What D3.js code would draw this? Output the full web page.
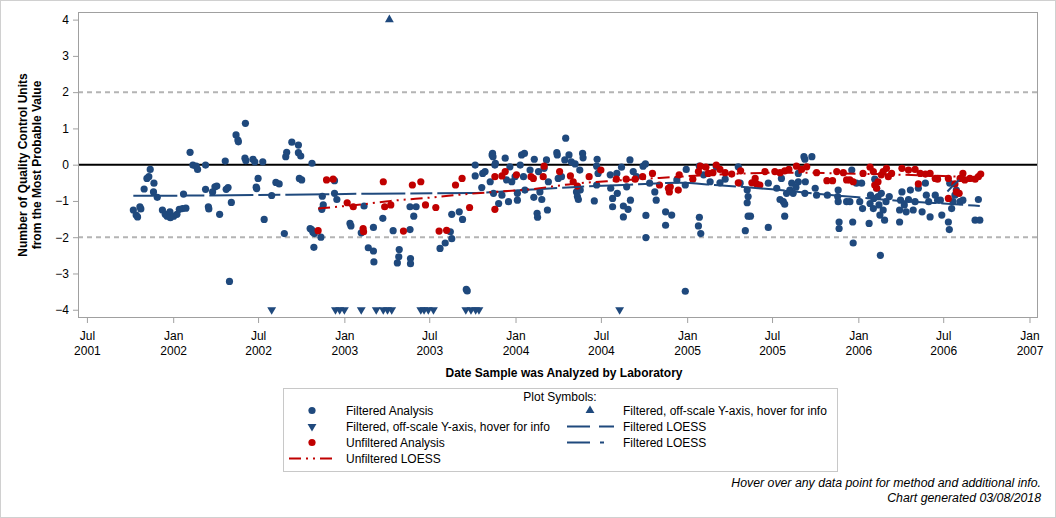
<!DOCTYPE html>
<html>
<head>
<meta charset="utf-8">
<script src="https://cdn.jsdelivr.net/npm/d3@7"></script>
<style>
  html, body { margin: 0; padding: 0; background: #fff; }
  svg text { font-family: "Liberation Sans", Arial, sans-serif; }
</style>
</head>
<body>
<svg id="chart" width="1056" height="518"></svg>
<script>
// ---------------- DATA ----------------
const yTickValues = [-4, -3, -2, -1, 0, 1, 2, 3, 4];
const referenceLines = [2, -2];

const filteredAnalysis = [
["2001-10-08",-1.25],["2001-10-14",-1.39],["2001-10-17",-1.44],["2001-10-22",-1.16],["2001-10-24",-1.22],["2001-10-31",-0.67],["2001-11-06",-0.38],["2001-11-10",-0.33],["2001-11-13",-0.13],["2001-11-21",-0.51],["2001-11-20",-0.75],["2001-11-28",-0.90],["2001-12-09",-1.25],["2001-12-15",-1.37],["2001-12-19",-1.42],["2001-12-25",-1.30],["2001-12-26",-1.46],["2002-01-02",-1.42],["2002-01-09",-1.37],["2002-01-14",-1.23],["2002-01-21",-1.21],["2002-01-28",-1.20],["2002-01-23",-0.81],["2002-02-06",0.34],["2002-02-12",-0.01],["2002-02-19",-0.04],["2002-02-22",-0.13],["2002-03-11",-0.01],["2002-03-11",-0.68],["2002-03-17",-1.16],["2002-03-18",-1.22],["2002-03-26",-0.75],["2002-03-31",-0.61],["2002-04-04",-0.59],["2002-04-10",-1.37],["2002-04-22",0.10],["2002-04-24",-0.68],["2002-04-28",-0.63],["2002-05-05",-1.04],["2002-05-01",-3.22],["2002-05-15",0.82],["2002-05-19",0.68],["2002-05-20",0.63],["2002-06-04",1.14],["2002-06-03",0.18],["2002-06-05",0.11],["2002-06-20",0.15],["2002-06-24",0.08],["2002-06-27",-0.62],["2002-07-01",-0.38],["2002-06-28",-0.66],["2002-07-11",0.08],["2002-07-14",-1.51],["2002-07-30",-0.85],["2002-08-08",-0.49],["2002-08-15",-0.53],["2002-08-26",-1.90],["2002-08-29",0.22],["2002-08-31",0.34],["2002-09-11",0.62],["2002-09-25",0.54],["2002-09-25",0.33],["2002-09-30",0.24],["2002-09-27",-0.38],["2002-10-02",-0.42],["2002-10-20",-1.76],["2002-10-24",0.04],["2002-10-23",-1.79],["2002-10-26",-1.86],["2002-10-28",-2.28],["2002-10-29",-1.90],["2002-11-12",-2.00],["2002-11-14",-1.23],["2002-11-15",-0.87],["2002-11-17",-1.11],["2002-12-11",-0.79],["2002-12-16",-0.96],["2002-12-11",-0.44],["2003-01-13",-1.62],["2003-01-15",-1.69],["2003-02-12",-1.14],["2003-02-06",-1.88],["2003-03-04",-1.73],["2003-02-21",-2.29],["2003-03-04",-2.38],["2003-03-05",-2.68],["2003-03-24",-1.48],["2003-04-15",-1.82],["2003-04-28",-2.34],["2003-04-27",-2.54],["2003-04-24",-2.71],["2003-05-21",-1.16],["2003-06-03",-1.16],["2003-05-29",-1.42],["2003-05-21",-1.79],["2003-05-22",-2.59],["2003-05-22",-2.73],["2003-08-18",-1.37],["2003-09-03",-1.30],["2003-09-10",-1.51],["2003-08-15",-1.85],["2003-08-18",-2.04],["2003-08-04",-2.16],["2003-07-24",-2.31],["2003-09-18",-3.44],["2003-09-20",-3.48],["2003-10-07",-0.01],["2003-10-07",-0.31],["2003-10-21",-0.63],["2003-10-23",-0.24],["2003-10-28",-0.19],["2003-11-08",-0.47],["2003-11-12",0.27],["2003-11-13",0.31],["2003-11-18",-0.01],["2003-11-15",-0.79],["2003-11-26",-1.07],["2003-11-14",0.22],["2003-11-19",0.04],["2003-12-03",-0.84],["2003-12-10",0.18],["2003-12-13",-0.42],["2003-12-17",-1.02],["2003-12-20",-0.06],["2003-12-24",-0.47],["2003-12-31",-0.33],["2004-01-05",-0.79],["2004-01-05",-0.98],["2004-01-11",-0.01],["2004-01-14",0.27],["2004-01-20",0.31],["2004-01-18",-0.33],["2004-01-21",-0.70],["2004-02-01",-0.15],["2004-02-10",0.15],["2004-02-09",-0.90],["2004-02-16",-1.34],["2004-02-17",-1.45],["2004-02-19",-0.19],["2004-02-22",-0.75],["2004-02-26",-0.96],["2004-03-02",-0.10],["2004-03-07",0.13],["2004-03-09",-1.25],["2004-03-11",-0.47],["2004-03-29",0.33],["2004-03-30",0.27],["2004-04-01",-0.38],["2004-04-08",-0.33],["2004-04-17",0.73],["2004-04-15",0.13],["2004-04-24",0.27],["2004-04-29",0.08],["2004-05-07",0.02],["2004-05-10",-0.75],["2004-05-12",-0.88],["2004-05-14",-0.96],["2004-05-17",-0.15],["2004-05-23",0.31],["2004-05-24",0.19],["2004-05-18",-0.70],["2004-06-17",-1.00],["2004-06-22",-0.56],["2004-06-22",-0.04],["2004-06-23",0.15],["2004-06-25",-0.24],["2004-07-21",-0.28],["2004-07-22",-0.65],["2004-07-26",-0.93],["2004-07-26",-1.16],["2004-08-04",-0.24],["2004-08-05",-0.79],["2004-08-14",-0.07],["2004-08-18",-1.14],["2004-08-18",-1.44],["2004-08-25",-0.61],["2004-08-28",-1.23],["2004-09-01",0.13],["2004-09-02",-0.98],["2004-09-08",-0.19],["2004-09-15",-0.33],["2004-09-29",-0.04],["2004-10-04",0.02],["2004-10-05",-1.40],["2004-10-05",-2.01],["2004-10-13",-0.51],["2004-10-24",-0.75],["2004-10-27",-0.98],["2004-11-16",-1.30],["2004-11-16",-1.67],["2004-11-29",-1.39],["2004-12-28",-3.49],["2004-12-30",-0.13],["2004-12-28",-0.56],["2004-12-10",-0.42],["2005-01-27",-0.04],["2005-01-27",-1.45],["2005-01-25",-1.69],["2005-01-30",-1.90],["2005-02-05",-0.28],["2005-02-19",-0.47],["2005-03-04",-0.06],["2005-03-12",-0.50],["2005-03-23",-0.40],["2005-04-20",-0.06],["2005-04-24",-0.51],["2005-05-09",-0.70],["2005-05-11",-0.88],["2005-05-09",-1.05],["2005-05-11",-1.42],["2005-05-16",-1.42],["2005-05-05",-1.82],["2005-06-23",-1.73],["2005-06-23",-0.51],["2005-07-11",-0.65],["2005-07-18",-0.96],["2005-07-21",-0.38],["2005-07-25",-1.02],["2005-07-28",-1.09],["2005-07-28",-1.42],["2005-08-01",-0.79],["2005-08-08",-0.70],["2005-08-12",-0.51],["2005-08-15",-0.79],["2005-08-21",-0.62],["2005-08-26",-0.47],["2005-08-26",-0.24],["2005-09-07",0.22],["2005-09-09",0.15],["2005-09-24",0.22],["2005-09-09",-0.79],["2005-09-10",-0.47],["2005-10-01",-0.65],["2005-10-04",-0.84],["2005-10-27",-0.84],["2005-11-19",-0.70],["2005-11-18",-0.88],["2005-11-19",-1.02],["2005-11-21",-1.58],["2005-11-21",-1.76],["2005-12-07",-1.02],["2005-12-14",-1.02],["2005-12-20",-1.58],["2005-12-21",-2.16],["2005-12-18",-0.15],["2005-12-28",-0.51],["2006-01-08",-0.51],["2006-01-04",-1.02],["2006-01-10",-1.21],["2006-01-24",-1.62],["2006-01-27",-0.84],["2006-01-26",-1.07],["2006-02-02",-1.21],["2006-02-03",-0.93],["2006-02-05",-0.40],["2006-02-09",-0.65],["2006-02-12",-0.88],["2006-02-14",-1.11],["2006-02-16",-1.39],["2006-02-17",-2.50],["2006-02-19",-0.79],["2006-02-23",-1.25],["2006-02-26",-1.53],["2006-03-01",-1.02],["2006-03-08",-0.88],["2006-03-30",-1.58],["2006-03-30",-1.25],["2006-04-01",-0.98],["2006-04-04",-0.75],["2006-04-09",-1.11],["2006-04-13",-1.30],["2006-04-18",-0.96],["2006-04-22",-0.70],["2006-04-28",-1.25],["2006-05-02",-1.02],["2006-05-09",-0.65],["2006-05-17",-1.30],["2006-05-24",-0.51],["2006-05-26",-0.84],["2006-05-31",-1.02],["2006-06-03",-1.44],["2006-06-14",-0.84],["2006-06-19",-0.98],["2006-06-25",-0.98],["2006-06-28",-1.39],["2006-07-12",-1.58],["2006-07-14",-1.79],["2006-07-15",-0.51],["2006-07-19",-1.21],["2006-07-22",-1.02],["2006-07-26",-0.84],["2006-07-29",-0.70],["2006-08-06",-1.02],["2006-08-12",-0.98],["2006-09-07",-1.53],["2006-09-17",-1.53],["2006-09-14",-0.96]
];

const unfilteredAnalysis = [
["2002-11-06",-1.82],["2002-11-24",-0.42],["2002-12-08",-0.40],["2003-01-07",-1.05],["2003-01-20",-1.16],["2003-02-10",-1.76],["2003-02-11",-1.85],["2003-03-25",-0.47],["2003-03-28",-1.16],["2003-04-10",-1.11],["2003-05-07",-1.83],["2003-05-26",-0.56],["2003-06-13",-0.47],["2003-06-23",-1.11],["2003-07-15",-1.18],["2003-07-22",-1.83],["2003-08-07",-1.81],["2003-08-26",-0.56],["2003-09-09",-0.38],["2003-09-25",-1.18],["2003-11-18",-1.23],["2003-11-18",-0.33],["2003-12-03",-0.31],["2003-12-10",-0.19],["2004-01-03",-0.28],["2004-02-03",-0.33],["2004-02-08",-0.38],["2004-02-29",-0.33],["2004-03-02",-0.04],["2004-04-04",-0.19],["2004-04-27",-0.31],["2004-05-03",-0.47],["2004-05-12",-0.59],["2004-06-06",-0.33],["2004-07-01",-0.15],["2004-08-03",-0.40],["2004-08-24",-0.40],["2004-09-12",-0.40],["2004-09-28",-0.33],["2004-10-19",-0.24],["2004-11-03",-0.56],["2004-11-22",-0.65],["2004-11-24",-0.75],["2004-11-26",-0.61],["2004-12-13",-0.70],["2004-12-15",-0.28],["2005-01-13",-0.40],["2005-01-25",-0.19],["2005-01-29",-0.04],["2005-02-10",-0.07],["2005-02-15",-0.24],["2005-02-25",-0.22],["2005-03-04",-0.01],["2005-03-12",-0.13],["2005-03-23",-0.22],["2005-04-06",-0.26],["2005-04-20",-0.50],["2005-04-25",-0.17],["2005-05-19",-0.50],["2005-05-26",-0.38],["2005-05-29",-0.53],["2005-06-05",-0.56],["2005-06-16",-0.19],["2005-07-07",-0.19],["2005-07-18",-0.22],["2005-07-28",-0.17],["2005-08-06",-0.13],["2005-08-22",-0.04],["2005-09-02",-0.13],["2005-09-13",-0.06],["2005-10-04",-0.22],["2005-10-26",-0.44],["2005-11-07",-0.44],["2005-11-16",-0.19],["2005-11-30",-0.22],["2005-12-07",-0.42],["2005-12-14",-0.42],["2005-12-21",-0.47],["2006-01-11",-0.24],["2006-01-26",-0.07],["2006-02-02",-0.19],["2006-02-05",-0.56],["2006-02-09",-0.65],["2006-02-12",-0.47],["2006-02-19",-0.28],["2006-02-23",-0.19],["2006-03-02",-0.10],["2006-03-06",-0.33],["2006-03-13",-0.24],["2006-04-04",-0.10],["2006-04-18",-0.15],["2006-05-02",-0.13],["2006-05-09",-0.53],["2006-05-13",-0.24],["2006-05-24",-0.26],["2006-06-03",-0.24],["2006-06-14",-0.38],["2006-06-19",-0.40],["2006-07-12",-0.38],["2006-07-12",-0.93],["2006-07-26",-0.53],["2006-07-29",-0.75],["2006-08-04",-0.79],["2006-08-06",-0.38],["2006-08-12",-0.24],["2006-08-16",-0.42],["2006-08-27",-0.38],["2006-09-07",-0.40],["2006-09-14",-0.33],["2006-09-19",-0.26]
];

// Off-scale points, plotted at the axis limit
const offScaleLow = [
["2002-07-30",-4],["2002-12-13",-4],["2002-12-22",-4],["2003-01-01",-4],["2003-02-06",-4],["2003-03-10",-4],["2003-03-25",-4],["2003-04-03",-4],["2003-04-12",-4],["2003-06-13",-4],["2003-06-20",-4],["2003-06-29",-4],["2003-07-10",-4],["2003-09-17",-4],["2003-09-28",-4],["2003-10-08",-4],["2003-10-15",-4],["2004-08-10",-4]
];
const offScaleHigh = [["2003-04-07",4]];

const filteredLoess = [
["2001-10-08",-0.86],["2002-03-01",-0.85],["2002-09-01",-0.83],["2003-03-01",-0.80],["2003-10-01",-0.78],["2004-01-15",-0.70],["2004-05-01",-0.62],["2004-09-01",-0.55],["2004-12-15",-0.50],["2005-03-01",-0.56],["2005-07-01",-0.68],["2005-10-01",-0.80],["2006-01-01",-0.90],["2006-04-01",-1.00],["2006-07-01",-1.07],["2006-09-17",-1.14]
];
const filteredLoess2 = [
["2006-07-10",-0.74],["2006-07-20",-0.60],["2006-08-04",-0.42]
];
const unfilteredLoess = [
["2002-11-06",-1.21],["2003-02-10",-1.09],["2003-04-10",-1.00],["2003-07-10",-0.90],["2003-09-20",-0.81],["2003-11-18",-0.75],["2004-02-01",-0.68],["2004-05-01",-0.53],["2004-08-01",-0.44],["2004-10-15",-0.38],["2004-12-15",-0.33],["2005-04-01",-0.26],["2005-08-01",-0.22],["2006-01-01",-0.25],["2006-06-01",-0.30],["2006-09-19",-0.36]
];

const legendItems = [
  {label: "Filtered Analysis", kind: "circle", color: "#1f497d", col: 0, row: 0},
  {label: "Filtered, off-scale Y-axis, hover for info", kind: "down", color: "#1f497d", col: 0, row: 1},
  {label: "Unfiltered Analysis", kind: "circle", color: "#c00000", col: 0, row: 2},
  {label: "Unfiltered LOESS", kind: "line", color: "#c00000", dash: "12,5,2,5,2,5,12", col: 0, row: 3},
  {label: "Filtered, off-scale Y-axis, hover for info", kind: "up", color: "#1f497d", col: 1, row: 0},
  {label: "Filtered LOESS", kind: "line", color: "#1f497d", dash: "23,9,16", col: 1, row: 1},
  {label: "Filtered LOESS", kind: "line", color: "#1f497d", dash: "23,10,4,30", col: 1, row: 2}
];

// ---------------- DRAW ----------------
const BLUE = "#1f497d", RED = "#c00000";
const parse = d3.utcParse("%Y-%m-%d");
const svg = d3.select("#chart");

const L = 78, R = 1037, T = 12, B = 317;
const x = d3.scaleUtc()
  .domain([parse("2001-06-12"), parse("2007-01-17")])
  .range([L, R]);
const y = d3.scaleLinear().domain([-4.2, 4.21]).range([B, T]);

// outer border
svg.append("rect").attr("x", 0.5).attr("y", 0.5).attr("width", 1055).attr("height", 517)
  .attr("fill", "#fff").attr("stroke", "#d0d0d0");

// reference lines
svg.selectAll(".ref").data(referenceLines).join("line")
  .attr("x1", L).attr("x2", R)
  .attr("y1", d => y(d)).attr("y2", d => y(d))
  .attr("stroke", "#b4b4b4").attr("stroke-width", 2).attr("stroke-dasharray", "5,4");
svg.append("line").attr("x1", L).attr("x2", R).attr("y1", y(0)).attr("y2", y(0))
  .attr("stroke", "#000").attr("stroke-width", 2);

// axes
const yAxis = d3.axisLeft(y).tickValues(yTickValues).tickSize(5).tickPadding(4).tickFormat(d3.format("d"));
const gy = svg.append("g").attr("transform", `translate(${L},0)`).call(yAxis);
gy.select(".domain").remove();
gy.selectAll("line").attr("stroke", "#a0a0a0");
gy.selectAll("text").attr("font-size", 12).attr("fill", "#000");

const xAxis = d3.axisBottom(x).ticks(d3.utcMonth.every(6)).tickSize(6).tickFormat("");
const gx = svg.append("g").attr("transform", `translate(0,${B})`).call(xAxis);
gx.select(".domain").remove();
gx.selectAll("line").attr("stroke", "#a0a0a0");
gx.selectAll(".tick").each(function(d) {
  const t = d3.select(this).select("text");
  t.attr("font-size", 12).attr("fill", "#000").attr("y", 0).attr("dy", null);
  t.append("tspan").attr("x", 0).attr("y", 23).text(d3.utcFormat("%b")(d));
  t.append("tspan").attr("x", 0).attr("y", 38).text(d3.utcFormat("%Y")(d));
});

// frame
svg.append("rect").attr("x", L + 0.5).attr("y", T + 0.5).attr("width", R - L).attr("height", B - T)
  .attr("fill", "none").attr("stroke", "#a0a0a0");

// points
const sym = (type, size) => d3.symbol().type(type).size(size)();
svg.append("g").selectAll("circle").data(filteredAnalysis).join("circle")
  .attr("cx", d => x(parse(d[0]))).attr("cy", d => y(d[1])).attr("r", 3.6).attr("fill", BLUE);
svg.append("g").selectAll("circle").data(unfilteredAnalysis).join("circle")
  .attr("cx", d => x(parse(d[0]))).attr("cy", d => y(d[1])).attr("r", 3.6).attr("fill", RED);
svg.append("g").selectAll("path").data(offScaleLow).join("path")
  .attr("d", sym(d3.symbolTriangle, 34))
  .attr("transform", d => `translate(${x(parse(d[0]))},${y(d[1])}) rotate(180)`).attr("fill", BLUE);
svg.append("g").selectAll("path").data(offScaleHigh).join("path")
  .attr("d", sym(d3.symbolTriangle, 34))
  .attr("transform", d => `translate(${x(parse(d[0]))},${y(d[1])})`).attr("fill", BLUE);

// loess lines
const line = d3.line().x(d => x(parse(d[0]))).y(d => y(d[1])).curve(d3.curveMonotoneX);
svg.append("path").datum(filteredLoess).attr("d", line).attr("fill", "none")
  .attr("stroke", BLUE).attr("stroke-width", 2).attr("stroke-dasharray", "44,5,22,5");
svg.append("path").datum(filteredLoess2).attr("d", line).attr("fill", "none")
  .attr("stroke", BLUE).attr("stroke-width", 2).attr("stroke-dasharray", "22,8,4,8");
svg.append("path").datum(unfilteredLoess).attr("d", line).attr("fill", "none")
  .attr("stroke", RED).attr("stroke-width", 2).attr("stroke-dasharray", "12,5,2,5,2,5");

// axis titles
svg.append("text").attr("x", 564).attr("y", 377).attr("text-anchor", "middle")
  .attr("font-size", 12).attr("font-weight", "bold").text("Date Sample was Analyzed by Laboratory");
const yt = svg.append("text").attr("transform", "translate(27,165) rotate(-90)")
  .attr("text-anchor", "middle").attr("font-size", 12).attr("font-weight", "bold");
yt.append("tspan").attr("x", 0).attr("y", 0).text("Number of Quality Control Units");
yt.append("tspan").attr("x", 0).attr("y", 14).text("from the Most Probable Value");

// legend
svg.append("rect").attr("x", 283.5).attr("y", 388.5).attr("width", 554).attr("height", 83)
  .attr("fill", "none").attr("stroke", "#c8c8c8");
svg.append("text").attr("x", 560).attr("y", 401).attr("text-anchor", "middle")
  .attr("font-size", 12).text("Plot Symbols:");
const rowY = [410.5, 426.5, 442.5, 458.5];
const colSym = [312, 590], colText = [346, 623];
const lg = svg.append("g").selectAll("g").data(legendItems).join("g")
  .attr("transform", d => `translate(0,${rowY[d.row]})`);
lg.each(function(d) {
  const g = d3.select(this);
  const cx = colSym[d.col];
  if (d.kind === "circle") g.append("circle").attr("cx", cx).attr("cy", 0).attr("r", 3.6).attr("fill", d.color);
  else if (d.kind === "up") g.append("path").attr("d", sym(d3.symbolTriangle, 34)).attr("transform", `translate(${cx},0)`).attr("fill", d.color);
  else if (d.kind === "down") g.append("path").attr("d", sym(d3.symbolTriangle, 34)).attr("transform", `translate(${cx},0) rotate(180)`).attr("fill", d.color);
  else g.append("line").attr("x1", cx - 23).attr("x2", cx + 24).attr("y1", 0).attr("y2", 0)
    .attr("stroke", d.color).attr("stroke-width", 2).attr("stroke-dasharray", d.dash);
  g.append("text").attr("x", colText[d.col]).attr("y", 4.5).attr("font-size", 12).text(d.label);
});

// footnotes
svg.append("text").attr("x", 1041).attr("y", 487).attr("text-anchor", "end")
  .attr("font-size", 12.3).attr("font-style", "italic").text("Hover over any data point for method and additional info.");
svg.append("text").attr("x", 1041).attr("y", 502).attr("text-anchor", "end")
  .attr("font-size", 12.3).attr("font-style", "italic").text("Chart generated 03/08/2018");
</script>
</body>
</html>
